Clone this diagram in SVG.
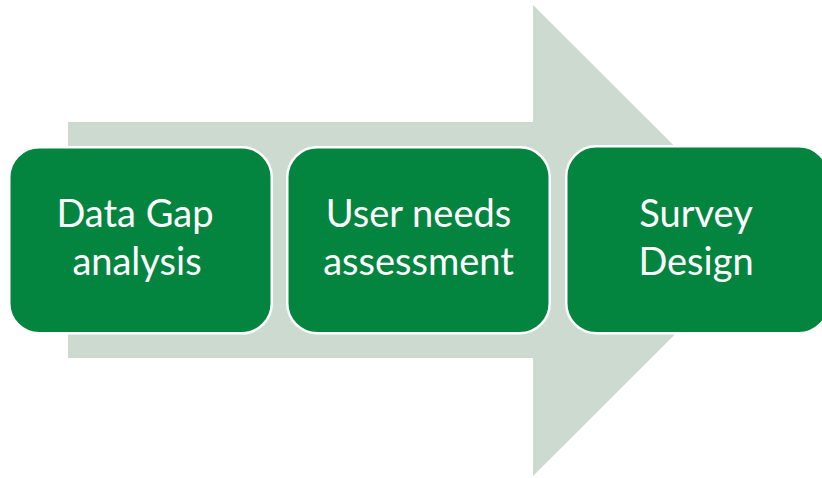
<svg xmlns="http://www.w3.org/2000/svg" width="822" height="478" viewBox="0 0 822 478">
<style>
.box{fill:#03853F;stroke:#FFFFFF;stroke-width:2.5}
.lbl{font-family:Lato,"Open Sans","Liberation Sans",sans-serif;font-size:38px;fill:#FFFFFF;text-anchor:middle}
</style>
<rect width="822" height="478" fill="#FFFFFF"/>
<g id="arrow">
<polygon points="68,122 533,122 533,5 769,240.5 533,476 533,358 68,358" fill="#CCDAD0"/>
</g>
<g id="connectors"></g>
<g id="node1">
<rect class="box" x="9.25" y="147.25" width="262.5" height="186" rx="30"/>
<text class="lbl" x="135" y="227">Data Gap</text>
<text class="lbl" x="137" y="275">analysis</text>
</g>
<g id="node2">
<rect class="box" x="287.25" y="147.25" width="262.5" height="186" rx="30"/>
<text class="lbl" x="418.5" y="227">User needs</text>
<text class="lbl" x="418.5" y="275">assessment</text>
</g>
<g id="node3">
<rect class="box" x="566.25" y="146.25" width="262.5" height="187" rx="30"/>
<text class="lbl" x="696" y="227">Survey</text>
<text class="lbl" x="696" y="275">Design</text>
</g>
</svg>
